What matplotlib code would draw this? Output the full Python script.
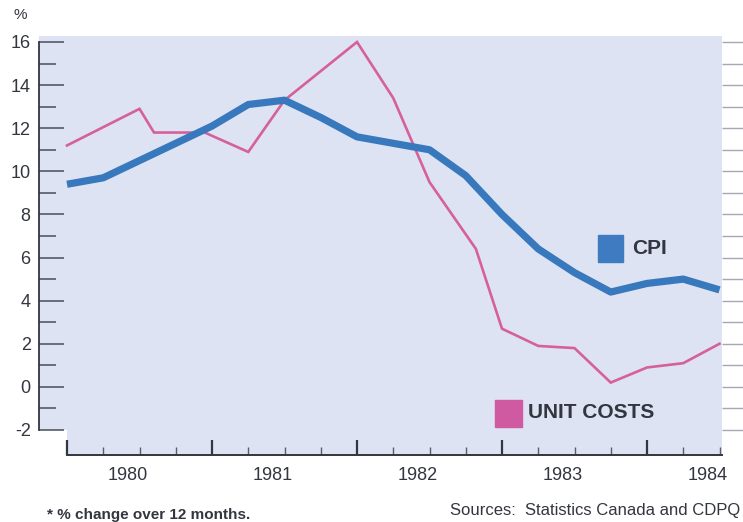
import matplotlib.pyplot as plt
import numpy as np
from matplotlib.patches import Rectangle

plt.rcParams['font.family'] = ['Liberation Sans', 'DejaVu Sans']

# quarterly CPI, % change over 12 months
cpi_t = [1980 + k / 4 for k in range(19)]
cpi = [9.4, 9.7, 10.5, 11.3, 12.1, 13.1, 13.3, 12.5, 11.6, 11.3, 11.0, 9.8,
       8.0, 6.4, 5.3, 4.4, 4.8, 5.0, 4.5]
# unit costs
unit_t = [1980.0, 1980.5, 1980.6, 1980.95, 1981.25, 1981.5, 1982.0, 1982.25,
          1982.5, 1982.82, 1983.0, 1983.25, 1983.5, 1983.75, 1984.0, 1984.25, 1984.5]
unit = [11.2, 12.9, 11.8, 11.8, 10.9, 13.3, 16.0, 13.4,
        9.5, 6.4, 2.7, 1.9, 1.8, 0.2, 0.9, 1.1, 2.0]
years = [1980, 1981, 1982, 1983, 1984]
yticks = [-2, 0, 2, 4, 6, 8, 10, 12, 14, 16]

W, H = 743, 522
bg = '#dde3f3'
dark = '#33363f'
blue = '#3878bc'
pink = '#d6609a'

def px(x0, y0, x1, y1):
    #像素坐标 -> figure fraction
    return [x0 / W, 1 - y1 / H, (x1 - x0) / W, (y1 - y0) / H]

fig = plt.figure(figsize=(W / 100, H / 100), dpi=100)
x_left = 1980 + (39 - 67) / 145.
x_right = 1980 + (722 - 67) / 145.

ax = fig.add_axes(px(39, 36, 722, 430), facecolor=bg)
ax.set_xlim(x_left, x_right)
ax.set_ylim(-2, 16 + 6 / 21.56)
for s in ['top', 'right', 'bottom']:
    ax.spines[s].set_visible(False)
ax.spines['left'].set_color(dark)
ax.spines['left'].set_linewidth(1.3)
ax.spines['left'].set_bounds(-2, 16)
ax.set_xticks([])
ax.set_yticks(yticks)
ax.set_yticks(np.arange(-1, 16, 2), minor=True)
ax.set_yticklabels([str(v) for v in yticks], fontsize=13, color=dark)
ax.tick_params(axis='y', which='major', direction='in', length=18, width=1.1,
               color='#4a4d58', pad=6)
ax.tick_params(axis='y', which='minor', direction='in', length=12, width=1.1,
               color='#4a4d58')

# right ticks sit outside the panel
axr = ax.secondary_yaxis('right')
axr.spines['right'].set_visible(False)
axr.set_yticks(range(-2, 17))
axr.tick_params(direction='out', length=16, width=1.0, color='#a4a8b2',
                labelright=False)

ax.plot(unit_t, unit, color=pink, lw=1.9, solid_joinstyle='miter')
ax.plot(cpi_t, cpi, color=blue, lw=5.2, solid_joinstyle='round',
        solid_capstyle='butt')

# bottom time axis panel
ax2 = fig.add_axes(px(67, 430, 722, 455), facecolor=bg)
ax2.set_xlim(1980, x_right)
ax2.set_ylim(0, 1)
for s in ['top', 'right', 'left']:
    ax2.spines[s].set_visible(False)
ax2.spines['bottom'].set_color(dark)
ax2.spines['bottom'].set_linewidth(1.4)
ax2.set_yticks([])
ax2.set_xticks(years)
ax2.set_xticks(np.arange(1980, 1984.6, 0.25), minor=True)
ax2.tick_params(axis='x', which='major', direction='in', length=11, width=1.6,
                color=dark, labelbottom=False)
ax2.tick_params(axis='x', which='minor', direction='in', length=6, width=1.0,
                color='#5a5d68')
for yr in years:
    ax2.text(yr + 0.42, -0.8, str(yr), transform=ax2.get_xaxis_transform(),
             ha='center', va='center', fontsize=13, color=dark)

# legend boxes
fig.patches.append(Rectangle((598 / W, 1 - 262 / H), 25 / W, 27 / H,
                             transform=fig.transFigure, color='#3e7bc0'))
fig.text(632 / W, 1 - 248 / H, 'CPI', fontsize=15, fontweight='bold',
         color=dark, va='center')
fig.patches.append(Rectangle((495 / W, 1 - 427 / H), 27 / W, 27 / H,
                             transform=fig.transFigure, color='#cf5aa2'))
fig.text(528 / W, 1 - 412 / H, 'UNIT COSTS', fontsize=15, fontweight='bold',
         color=dark, va='center')

fig.text(20 / W, 1 - 15 / H, '%', fontsize=11, color=dark, ha='center', va='center')
fig.text(47 / W, 1 - 515 / H, '* % change over 12 months.', fontsize=11,
         fontweight='bold', color=dark, va='center')
fig.text(450 / W, 1 - 510 / H, 'Sources:  Statistics Canada and CDPQ', fontsize=12,
         color=dark, va='center')

fig.savefig('out.png', dpi=100)
